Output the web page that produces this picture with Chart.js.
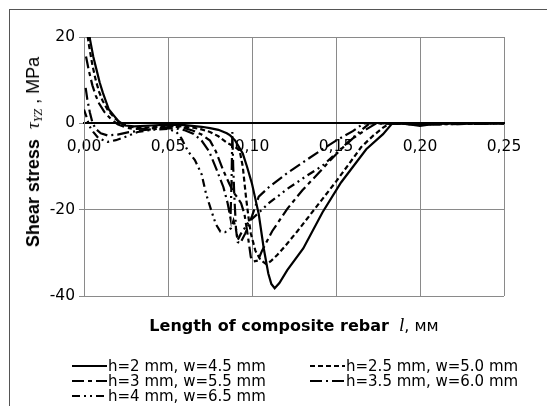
<!DOCTYPE html>
<html>
<head>
<meta charset="utf-8">
<script src="https://cdn.jsdelivr.net/npm/chart.js@4"></script>
<style>
  html, body { margin: 0; padding: 0; background: #fff; overflow: hidden; }
  #wrap { position: relative; width: 547px; height: 406px; overflow: hidden; font-family: "DejaVu Sans", sans-serif; color: #000; }
  #frame { position: absolute; left: 9px; top: 9px; width: 700px; height: 600px; border-left: 1px solid #555; border-top: 1px solid #555; }
  canvas { position: absolute; left: 0; top: 0; }
  #ytitle { position: absolute; left: 34px; top: 152px; transform: translate(-50%, -50%) rotate(-90deg); white-space: nowrap; font-size: 18px; font-family: "Liberation Sans", Arial, sans-serif; }
  #xtitle { position: absolute; left: 294px; top: 325px; transform: translate(-50%, -50%); white-space: nowrap; font-size: 16px; }
  .sym { font-family: "Liberation Serif", serif; font-style: italic; font-size: 19px; }
  .sub { font-family: "Liberation Serif", serif; font-style: italic; font-size: 12px; vertical-align: -3px; }
  #legend { position: absolute; left: 0; top: 0; font-size: 15px; }
  .item { position: absolute; display: flex; align-items: center; white-space: nowrap; height: 16px; }
  .item svg { display: block; margin-right: 1px; }
</style>
</head>
<body>
<div id="wrap">
  <div id="frame"></div>
  <canvas id="c" width="547" height="406"></canvas>
  <div id="ytitle"><b>Shear stress</b>&nbsp;&nbsp;<span class="sym">τ</span><span class="sub">YZ</span> , MPa</div>
  <div id="xtitle"><b>Length of composite rebar</b>&nbsp;&nbsp;<span class="sym">l</span>, мм</div>
  <div id="legend"></div>
</div>
<script>
// ---- tick values ----
const xTicks = [0, 0.05, 0.10, 0.15, 0.20, 0.25];
const yTicks = [-40, -20, 0, 20];

// ---- series labels ----
const labels = [
  "h=2 mm, w=4.5 mm",
  "h=2.5 mm, w=5.0 mm",
  "h=3 mm, w=5.5 mm",
  "h=3.5 mm, w=6.0 mm",
  "h=4 mm, w=6.5 mm"
];

// ---- h=2 mm, w=4.5 mm ----
const xH2 = [0.003,0.0036,0.0055,0.0074,0.0093,0.0112,0.0148,0.0205,0.0244,0.030,0.040,0.050,0.060,0.070,0.075,0.080,0.085,0.087,0.090,0.0945,0.097,0.100,0.102,0.104,0.107,0.1097,0.1115,0.1135,0.1163,0.121,0.1305,0.142,0.153,0.168,0.178,0.1835,0.190,0.195,0.200,0.205,0.210,0.220,0.250];
const yH2 = [21,19.4,15.5,12.5,9.5,7.1,3.2,0.5,-0.5,-0.7,-0.5,-0.3,-0.4,-0.8,-1.1,-1.5,-2.3,-2.8,-4,-7,-10,-14,-17.5,-21,-29,-34.8,-37.2,-38.2,-37,-34,-29,-20.6,-13.7,-6,-2.5,0,-0.1,-0.3,-0.6,-0.3,-0.1,0,0];

// ---- h=2.5 mm, w=5.0 mm ----
const xH25 = [0.0015,0.003,0.005,0.007,0.009,0.011,0.014,0.018,0.022,0.027,0.035,0.045,0.055,0.065,0.070,0.075,0.080,0.085,0.090,0.0926,0.0945,0.0964,0.098,0.0993,0.102,0.105,0.1085,0.111,0.115,0.120,0.127,0.135,0.142,0.150,0.157,0.165,0.172,0.178,0.182,0.190,0.200,0.210,0.250];
const yH25 = [22,18,13.5,10,7.3,5.3,3.2,1.3,0,-0.8,-1,-0.8,-0.6,-1,-1.4,-2,-3,-4.5,-5.5,-6.2,-10,-17,-22,-25.5,-29.5,-31.6,-32.6,-32,-30.5,-28.3,-25,-21,-17.5,-13.5,-9.8,-5.5,-2.9,-1,0,-0.1,-0.4,-0.1,0];

// ---- h=3 mm, w=5.5 mm ----
const xH3 = [0.0012,0.003,0.005,0.007,0.009,0.012,0.016,0.020,0.025,0.030,0.040,0.050,0.055,0.060,0.065,0.070,0.075,0.0785,0.083,0.0865,0.089,0.091,0.0935,0.0955,0.0975,0.0993,0.101,0.1035,0.106,0.112,0.121,0.130,0.138,0.146,0.153,0.160,0.168,0.174,0.190,0.200,0.210,0.250];
const yH3 = [15.5,12,8.8,6.4,4.6,2.7,1,-0.2,-1,-1.3,-1.2,-0.9,-0.8,-1.1,-1.7,-2.6,-4,-6.5,-11,-14,-16,-17,-18.5,-21,-26,-31,-32,-31.8,-29.5,-25,-19.8,-15.5,-12.2,-8.8,-6,-3.5,-1.4,0,-0.1,-0.3,-0.1,0];

// ---- h=3.5 mm, w=6.0 mm ----
const xH35 = [0.001,0.002,0.0035,0.005,0.007,0.010,0.014,0.020,0.026,0.035,0.045,0.050,0.055,0.060,0.065,0.070,0.0745,0.079,0.083,0.0855,0.0872,0.0878,0.0883,0.0888,0.0895,0.0905,0.0915,0.093,0.096,0.100,0.104,0.110,0.120,0.1305,0.140,0.150,0.160,0.1665,0.190,0.200,0.250];
const yH35 = [8.2,5.5,2.5,0.2,-1.3,-2.3,-2.8,-2.6,-2.1,-1.6,-1.2,-1.1,-1.2,-1.6,-2.4,-4,-6.5,-10.8,-14.8,-18.5,-22,-14,-2,-10,-17,-24.7,-27.5,-27.8,-25.5,-21.5,-17,-14.8,-11.8,-9,-6.5,-4,-1.8,0,-0.1,-0.3,0];

// ---- h=4 mm, w=6.5 mm ----
const xH4 = [0,0.0015,0.003,0.0055,0.0085,0.014,0.019,0.0256,0.032,0.040,0.050,0.055,0.058,0.062,0.066,0.070,0.0727,0.0756,0.0784,0.0812,0.084,0.086,0.0875,0.089,0.0905,0.0915,0.0935,0.098,0.110,0.121,0.132,0.142,0.150,0.159,0.165,0.170,0.190,0.200,0.250];
const yH4 = [3.2,1.5,-0.5,-2,-3.4,-4.3,-3.9,-3,-2,-1.5,-1.3,-2,-3.5,-6.5,-8.5,-11.8,-16.4,-20,-23.3,-25.1,-25.2,-24.7,-24.3,-22.5,-24.5,-27,-25.5,-22.9,-18.5,-15.2,-12.3,-9.8,-7,-3.7,-1.6,0,-0.1,-0.3,0];

const seriesX = [xH2, xH25, xH3, xH35, xH4];
const seriesY = [yH2, yH25, yH3, yH35, yH4];
const dashes = [[], [5, 3], [12, 4, 4, 4], [12, 4, 2, 4], [8, 4, 2, 4, 2, 4]];

const datasets = labels.map((lab, i) => ({
  label: lab,
  data: seriesX[i].map((x, k) => ({ x: x, y: seriesY[i][k] })),
  showLine: true,
  borderColor: '#000',
  borderWidth: 2.2,
  borderDash: dashes[i],
  pointRadius: 0,
  fill: false,
  tension: 0
}));

const tickFont = { family: 'DejaVu Sans', size: 15.5 };

const chart = new Chart(document.getElementById('c'), {
  type: 'scatter',
  data: { datasets },
  options: {
    responsive: false,
    animation: false,
    devicePixelRatio: 1,
    layout: { padding: { left: 34, top: 37, right: 43, bottom: 110 } },
    plugins: { legend: { display: false }, tooltip: { enabled: false } },
    scales: {
      x: {
        type: 'linear', min: 0, max: 0.25,
        position: { y: 0 },
        afterBuildTicks: s => { s.ticks = xTicks.map(v => ({ value: v })); },
        afterFit: s => { s.paddingLeft = 0; s.paddingRight = 0; },
        ticks: { callback: v => v.toFixed(2).replace('.', ','), font: tickFont, color: '#000', padding: 14, maxRotation: 0, autoSkip: false },
        grid: { color: '#8a8a8a', lineWidth: 1, drawTicks: false },
        border: { color: '#000', width: 2 }
      },
      y: {
        type: 'linear', min: -40, max: 20,
        afterBuildTicks: s => { s.ticks = yTicks.map(v => ({ value: v })); },
        afterFit: s => { s.width = 50; s.paddingTop = 0; s.paddingBottom = 0; },
        ticks: { callback: v => String(v), font: tickFont, color: '#000', padding: 4 },
        grid: { color: '#8a8a8a', lineWidth: 1, tickLength: 5, drawTicks: true },
        border: { color: '#8a8a8a', width: 1 }
      }
    }
  }
});

// ---- HTML legend built from the datasets ----
const legendPos = [
  { left: 72, top: 358 }, { left: 310, top: 358 },
  { left: 72, top: 373 }, { left: 310, top: 373 },
  { left: 72, top: 388 }
];
const leg = document.getElementById('legend');
chart.data.datasets.forEach((ds, i) => {
  const d = document.createElement('div');
  d.className = 'item';
  d.style.left = legendPos[i].left + 'px';
  d.style.top = legendPos[i].top + 'px';
  const dash = (ds.borderDash || []).join(' ');
  d.innerHTML = '<svg width="35" height="10"><line x1="0" y1="5" x2="35" y2="5" stroke="#000" stroke-width="2.2"' +
    (dash ? ' stroke-dasharray="' + dash + '"' : '') + '/></svg><span></span>';
  d.querySelector('span').textContent = ds.label;
  leg.appendChild(d);
});
</script>
</body>
</html>
